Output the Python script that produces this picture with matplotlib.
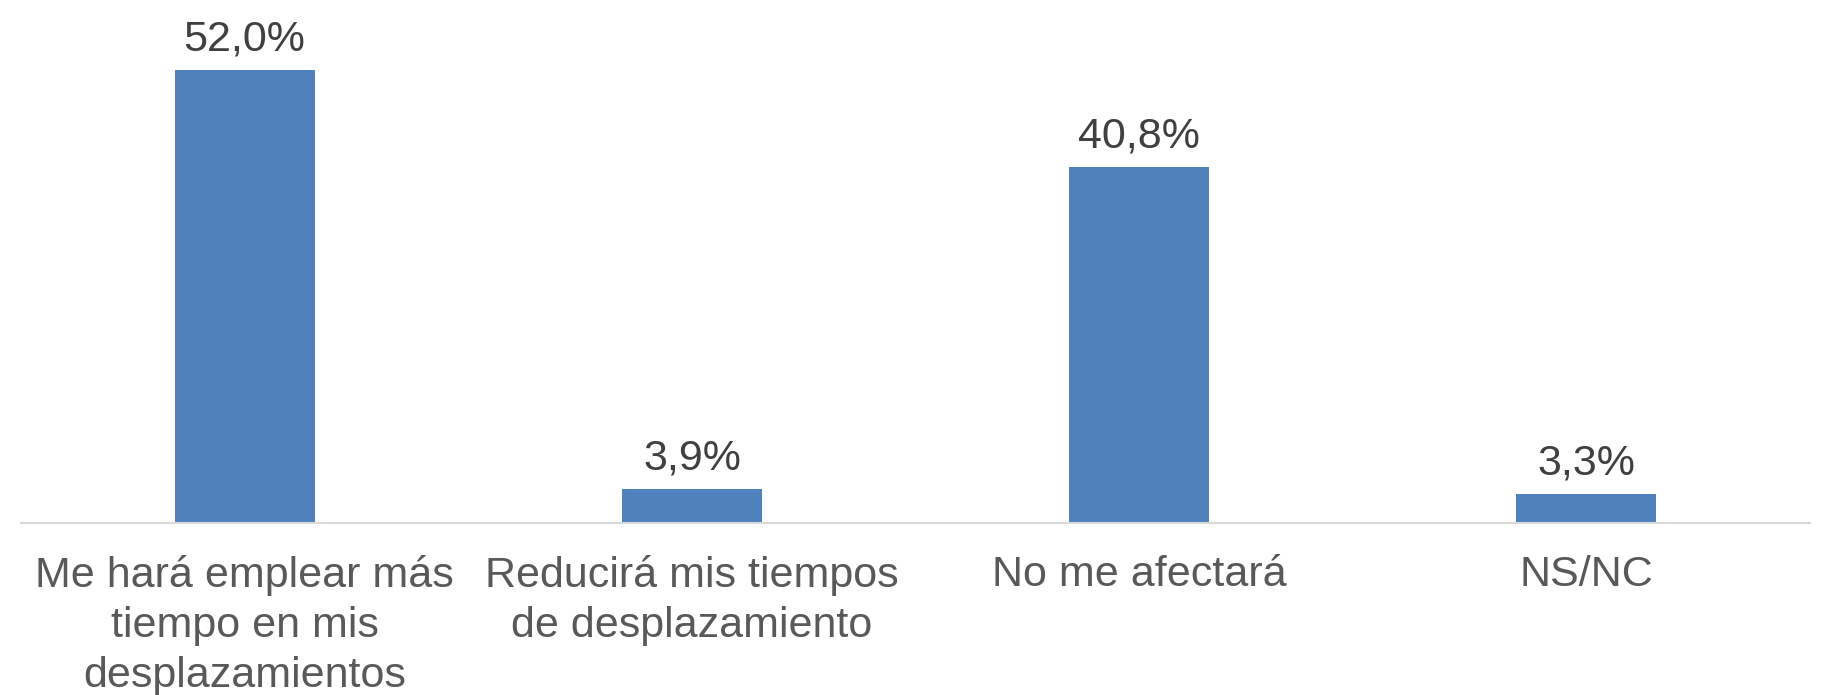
import matplotlib.pyplot as plt

plt.rcParams['font.family'] = ['Liberation Sans', 'DejaVu Sans']

categories = ["Me hará emplear más\ntiempo en mis\ndesplazamientos",
              "Reducirá mis tiempos\nde desplazamiento",
              "No me afectará",
              "NS/NC"]
values = [52.0, 3.9, 40.8, 3.3]
value_labels = ["52,0%", "3,9%", "40,8%", "3,3%"]

fig = plt.figure(figsize=(18.27, 6.95), dpi=100)
ax = fig.add_axes([0.0115, 0.2475, 0.9792, 0.7525])

x = range(len(categories))
bars = ax.bar(x, values, width=0.313, color='#4F81BD')

for b, lab in zip(bars, value_labels):
    ax.annotate(lab, (b.get_x() + b.get_width() / 2, b.get_height()),
                xytext=(0, 14), textcoords='offset points',
                ha='center', va='baseline', fontsize=31, color='#404040')

ax.set_xlim(-0.5, len(categories) - 0.5)
ax.set_ylim(0, 60)
ax.set_xticks(list(x))
ax.set_xticklabels(categories, fontsize=31, color='#595959', linespacing=1.33)
ax.tick_params(axis='x', length=0, pad=23)
ax.set_yticks([])
for s in ['top', 'right', 'left']:
    ax.spines[s].set_visible(False)
ax.spines['bottom'].set_color('#D9D9D9')
ax.spines['bottom'].set_linewidth(1.5)

plt.savefig('out.png', dpi=100)
